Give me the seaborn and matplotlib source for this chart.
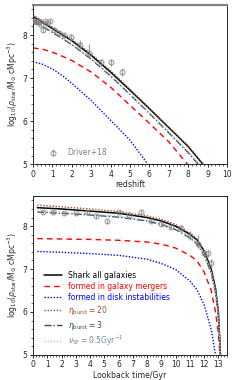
import numpy as np
import pandas as pd
import seaborn as sns
from matplotlib import pyplot as plt
from matplotlib.ticker import AutoMinorLocator

sns.set_style('ticks')
plt.rcParams['font.family'] = ['DejaVu Sans']
plt.rcParams['mathtext.fontset'] = 'dejavusans'

# model curves vs redshift
z_grid = [0, 0.5, 1, 1.5, 2, 3, 4, 5, 6, 7, 8, 9]
z_all = [8.43, 8.29, 8.15, 8.01, 7.87, 7.53, 7.14, 6.72, 6.29, 5.85, 5.41, 4.87]
z_mergers = [7.70, 7.67, 7.60, 7.51, 7.41, 7.14, 6.79, 6.37, 5.95, 5.52, 4.98, 4.50]
z_disk = [7.38, 7.32, 7.21, 7.06, 6.88, 6.48, 6.02, 5.56, 4.95, 4.40, 4.00, 3.60]
z_eta20 = [8.47, 8.33, 8.19, 8.04, 7.90, 7.56, 7.17, 6.74, 6.30, 5.86, 5.42, 4.88]
z_eta3 = [8.34, 8.20, 8.06, 7.92, 7.78, 7.44, 7.05, 6.62, 6.18, 5.73, 5.27, 4.75]
z_nusf = [8.36, 8.22, 8.08, 7.94, 7.80, 7.46, 7.07, 6.64, 6.20, 5.76, 5.30, 4.78]

# model curves vs lookback time
t_grid = [0.3, 2, 4, 6, 8, 9, 10, 11, 11.5, 12, 12.5, 12.8, 13.0, 13.15, 13.3]
t_all = [8.43, 8.40, 8.35, 8.30, 8.20, 8.12, 8.00, 7.81, 7.68, 7.42, 7.00, 6.55, 6.00, 5.00, 4.00]
t_mergers = [7.71, 7.70, 7.69, 7.67, 7.63, 7.58, 7.49, 7.32, 7.19, 6.93, 6.50, 6.00, 5.50, 4.80, 4.00]
t_disk = [7.41, 7.39, 7.36, 7.32, 7.23, 7.13, 6.99, 6.72, 6.52, 6.17, 5.59, 5.00, 4.50, 4.00, 3.50]
t_eta20 = [8.49, 8.45, 8.40, 8.34, 8.24, 8.16, 8.04, 7.84, 7.70, 7.43, 7.00, 6.55, 6.00, 5.00, 4.00]
t_eta3 = [8.33, 8.30, 8.26, 8.21, 8.12, 8.04, 7.92, 7.73, 7.59, 7.33, 6.90, 6.45, 5.90, 4.90, 3.90]
t_nusf = [8.35, 8.32, 8.28, 8.23, 8.14, 8.06, 7.94, 7.75, 7.61, 7.35, 6.92, 6.47, 5.92, 4.92, 3.92]

# Driver+18 observations
obs_z = [0.05, 0.1, 0.17, 0.24, 0.32, 0.4, 0.5, 0.62, 0.74, 0.9, 1.1, 1.32, 1.6, 1.98, 2.4, 2.9, 3.5, 4.0, 4.6]
obs_t = [0.7, 1.4, 2.2, 3.0, 3.8, 4.45, 5.2, 6.0, 6.75, 7.55, 8.3, 9.0, 9.7, 10.4, 11.0, 11.55, 12.0, 12.3, 12.46]
obs_val = [8.32, 8.33, 8.30, 8.30, 8.33, 8.23, 8.11, 8.32, 8.27, 8.32, 8.12, 8.05, 7.99, 7.95, 7.77, 7.58, 7.37, 7.37, 7.15]
obs_lo = [0.04, 0.04, 0.04, 0.04, 0.04, 0.04, 0.05, 0.04, 0.04, 0.05, 0.05, 0.05, 0.06, 0.08, 0.10, 0.10, 0.08, 0.08, 0.10]
obs_hi = [0.04, 0.04, 0.04, 0.04, 0.04, 0.04, 0.05, 0.04, 0.04, 0.05, 0.05, 0.05, 0.06, 0.08, 0.12, 0.22, 0.08, 0.08, 0.08]

labels = ['Shark all galaxies', 'formed in galaxy mergers', 'formed in disk instabilities',
          r'$\eta_{\rm burst}=20$', r'$\eta_{\rm burst}=3$', r'$\nu_{\rm SF}=0.5{\rm Gyr}^{-1}$']
colors = ['black', 'red', 'blue', 'sienna', 'darkslategray', 'lightsteelblue']
styles = ['-', (0, (4, 3)), (0, (1, 1.2)), (0, (1, 1.2)), (0, (5, 1.5, 1, 1.5)), (0, (1, 1.2))]
widths = [1.1, 1.0, 1.0, 1.0, 1.0, 1.0]

fig = plt.figure(figsize=(2.4, 3.8), dpi=100)
ax1 = fig.add_axes([0.1375, 0.568, 0.808, 0.419])
ax2 = fig.add_axes([0.1375, 0.066, 0.808, 0.418])

ylab = r'log$_{10}$($\rho_{\rm star}$/M$_{\odot}$ cMpc$^{-3}$)'
FS = 5.5


def draw_models(ax, x, series):
    for ys, lab, c, ls, lw in zip(series, labels, colors, styles, widths):
        df = pd.DataFrame({'x': x, 'y': ys})
        sns.lineplot(data=df, x='x', y='y', ax=ax, color=c, linestyle=ls,
                     linewidth=lw, label=lab, legend=False)


def draw_obs(ax, x):
    h = ax.errorbar(x, obs_val, yerr=[obs_lo, obs_hi], fmt='o', mfc='none',
                    mec='gray', ecolor='gray', color='gray', ms=3.5, mew=0.8,
                    elinewidth=0.9, alpha=0.75, label='Driver+18', zorder=5)
    return h


def style_axes(ax, xlabel, xmax):
    ax.set_xlim(0, xmax)
    ax.set_ylim(5, 8.7)
    ax.set_xticks(range(0, int(xmax) + 1))
    ax.set_yticks([5, 6, 7, 8])
    ax.xaxis.set_minor_locator(AutoMinorLocator(5))
    ax.yaxis.set_minor_locator(AutoMinorLocator(5))
    ax.tick_params(labelsize=FS, length=2.5, width=0.7, pad=1.5)
    ax.tick_params(which='minor', length=1.3, width=0.5)
    ax.set_xlabel(xlabel, fontsize=FS + 0.1, labelpad=1)
    ax.set_ylabel(ylab, fontsize=FS, labelpad=2)
    for sp in ax.spines.values():
        sp.set_linewidth(0.7)


# top panel: redshift
draw_models(ax1, z_grid, [z_all, z_mergers, z_disk, z_eta20, z_eta3, z_nusf])
h = draw_obs(ax1, obs_z)
style_axes(ax1, 'redshift', 10)
ax1.spines['top'].set_color('gray')
ax1.spines['top'].set_linewidth(1.6)
leg1 = ax1.legend(handles=[h], loc='lower left', fontsize=FS, frameon=False,
                  bbox_to_anchor=(0.03, 0.0), handletextpad=0.8)
for txt in leg1.get_texts():
    txt.set_color('gray')

# bottom panel: lookback time
draw_models(ax2, t_grid, [t_all, t_mergers, t_disk, t_eta20, t_eta3, t_nusf])
draw_obs(ax2, obs_t)
style_axes(ax2, 'Lookback time/Gyr', 13.6)
handles, labs = ax2.get_legend_handles_labels()
leg2 = ax2.legend(handles[:6], labs[:6], loc='lower left', fontsize=FS, frameon=False,
                  handlelength=2.4, labelspacing=0.25, borderaxespad=0.5,
                  bbox_to_anchor=(0.02, 0.0))
for txt, c in zip(leg2.get_texts(), colors):
    txt.set_color(c if c != 'lightsteelblue' else 'lightslategray')

fig.savefig('out.png', dpi=100)
